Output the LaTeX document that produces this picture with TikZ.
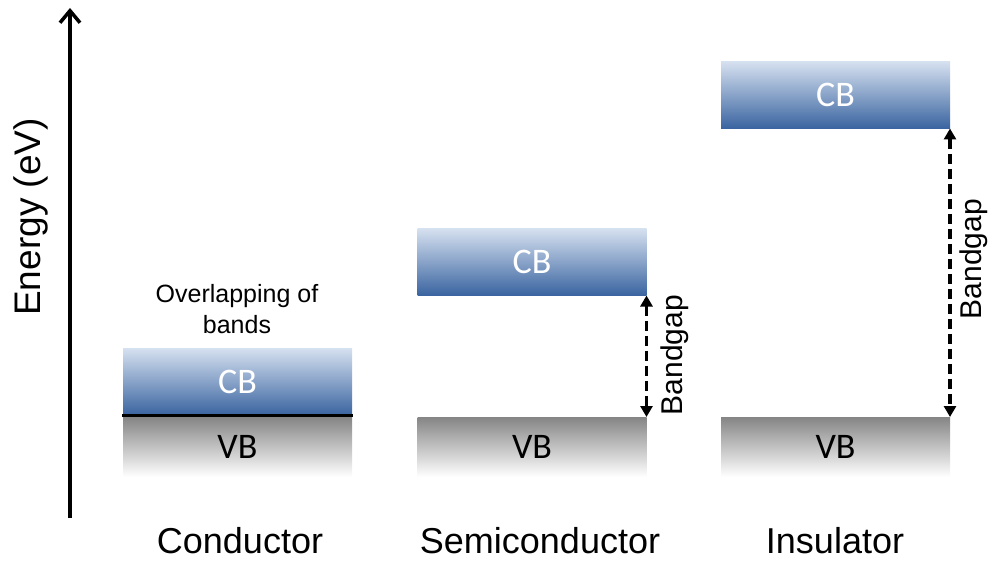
\documentclass[tikz,border=0pt]{standalone}
\usepackage{fontspec}
\setmainfont{Liberation Sans}
\newfontfamily\bandfont{Carlito}
\usetikzlibrary{arrows.meta}
\definecolor{cbtop}{HTML}{D6E1F0}
\definecolor{cbmid}{HTML}{7596C6}
\definecolor{cbbot}{HTML}{3A64A0}
\definecolor{vbtop}{HTML}{858585}
\tikzset{
  cbband/.style={shade, top color=cbtop, middle color=cbmid, bottom color=cbbot, text=white,
    minimum width=229pt, minimum height=67pt, inner sep=0pt, outer sep=0pt,
    font=\bandfont\fontsize{36}{40}\selectfont},
  vbband/.style={shade, top color=vbtop, bottom color=white, text=black,
    minimum width=229pt, minimum height=60pt, inner sep=0pt, outer sep=0pt,
    font=\bandfont\fontsize{36}{40}\selectfont},
  gaparrow/.style={line width=3.5pt, dash pattern=on 10pt off 5pt,
    {Triangle[length=11pt,width=12pt]}-{Triangle[length=11pt,width=12pt]}},
  gaplabel/.style={rotate=90, font=\fontsize{30}{34}\selectfont},
  kindlabel/.style={font=\fontsize{36}{40}\selectfont}
}
\begin{document}
\begin{tikzpicture}[x=1pt, y=-1pt]
      \useasboundingbox (0,0) rectangle (992,561);
      % energy axis
      \coordinate (axisbot) at (70,518);
      \coordinate (axistop) at (70,8);
      \draw[line width=4pt, -{Straight Barb[length=12pt,width=20pt,line width=3.5pt]}] (axisbot) -- (axistop);
      \node[rotate=90, font=\fontsize{37}{40}\selectfont] (energy) at (31,217) {Energy (eV)};
      % bands
      \node[cbband] (cb1) at (237.5,381.5) {CB};
      \node[vbband] (vb1) at (237.5,447) {VB};
      \node[cbband] (cb2) at (532,262) {CB};
      \node[vbband] (vb2) at (532,447) {VB};
      \node[cbband] (cb3) at (835.5,95) {CB};
      \node[vbband] (vb3) at (835.5,447) {VB};
      \draw[line width=3pt] ([xshift=-1pt]cb1.south west) -- ([xshift=1pt]cb1.south east);
      \node[align=center, font=\fontsize{25}{31}\selectfont] (overlap) at (237,309) {Overlapping of\\bands};
      % gaps
      \draw[gaparrow] (cb2.south east) -- (vb2.north east);
      \draw[gaparrow] (cb3.south east) -- (vb3.north east);
      \node[gaplabel] (gap2) at (675,355) {Bandgap};
      \node[gaplabel] (gap3) at (974,259) {Bandgap};
      % names
      \node[kindlabel] (cond) at (240,541) {Conductor};
      \node[kindlabel] (semi) at (540,541) {Semiconductor};
      \node[kindlabel] (insu) at (835,541) {Insulator};
    \end{tikzpicture}
\end{document}
